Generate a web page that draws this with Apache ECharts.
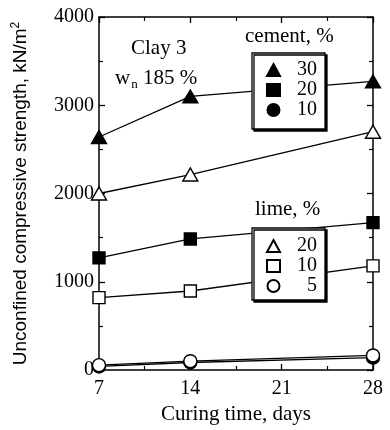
<!DOCTYPE html>
<html><head><meta charset="utf-8">
<script src="https://cdn.jsdelivr.net/npm/echarts@6/dist/echarts.min.js"></script>
<style>html,body{margin:0;padding:0;background:#fff}#c{width:390px;height:430px}</style>
</head><body><div id="c"></div>
<script>
var days = [7, 14, 28];
var cement30 = [2640, 3100, 3270];
var cement20 = [1270, 1485, 1670];
var cement10 = [40, 85, 140];
var lime20 = [2000, 2215, 2700];
var lime10 = [820, 895, 1180];
var lime5 = [55, 100, 165];
var xTicks = [7, 14, 21, 28];
var yTicks = [0, 1000, 2000, 3000, 4000];

var SERIF = 'Liberation Serif';
function pts(v){ return days.map(function(d,i){ return [d, v[i]]; }); }
function ser(name, vals, symbol, size, filled, z){
  return {
    name: name, type: 'line', data: pts(vals), symbol: symbol, symbolSize: size,
    showAllSymbol: true, z: z,
    lineStyle: {color: '#000', width: 1.3},
    itemStyle: {color: filled ? '#000' : '#fff', borderColor: '#000', borderWidth: 1.4, opacity: 1},
    emphasis: {disabled: true}, animation: false
  };
}
var legendCommon = {
  orient: 'vertical', selectedMode: false,
  backgroundColor: '#fff', borderColor: '#000', borderWidth: 1.3,
  shadowColor: '#000', shadowBlur: 0, shadowOffsetX: 2, shadowOffsetY: 2,
  itemWidth: 13, itemHeight: 12, itemGap: 0,
  formatter: function(n){ return '{n|' + n.split(' ')[1] + '}'; },
  textStyle: {color: '#000', fontFamily: SERIF, fontSize: 20,
    rich: {n: {width: 32, align: 'right', fontFamily: SERIF, fontSize: 20, color: '#000'}}}
};
function axisX(pos, showLabel){
  return {type: 'value', position: pos, min: xTicks[0], max: xTicks[xTicks.length-1], interval: 7,
    axisLine: {show: true, onZero: false, lineStyle: {color: '#000', width: 1.5}},
    axisTick: {show: true, inside: true, length: 6, lineStyle: {color: '#000', width: 1.3}},
    minorTick: {show: true, splitNumber: 2, length: 4, lineStyle: {color: '#000', width: 1.2}},
    splitLine: {show: false},
    axisLabel: {show: showLabel, color: '#000', fontFamily: SERIF, fontSize: 20, margin: 9,
      formatter: function(v){ return xTicks.indexOf(v) >= 0 ? String(v) : ''; }}
  };
}
function axisY(pos, showLabel){
  return {type: 'value', position: pos, min: yTicks[0], max: yTicks[yTicks.length-1], interval: 1000,
    axisLine: {show: true, onZero: false, lineStyle: {color: '#000', width: 1.5}},
    axisTick: {show: true, inside: true, length: 6, lineStyle: {color: '#000', width: 1.3}},
    minorTick: {show: true, splitNumber: 2, length: 4, lineStyle: {color: '#000', width: 1.2}},
    splitLine: {show: false},
    axisLabel: {show: showLabel, color: '#000', fontFamily: SERIF, fontSize: 20, margin: 5,
      formatter: function(v){ return yTicks.indexOf(v) >= 0 ? String(v) : ''; }}
  };
}
var xa = axisX('bottom', true);
xa.name = 'Curing time, days'; xa.nameLocation = 'middle'; xa.nameGap = 34;
xa.nameTextStyle = {color: '#000', fontFamily: SERIF, fontSize: 21};
var ya = axisY('left', true);
ya.name = 'Unconfined compressive strength, kN/m{s|2}'; ya.nameLocation = 'middle'; ya.nameGap = 67;
ya.nameTextStyle = {color: '#000', fontFamily: 'Liberation Sans', fontSize: 19,
  rich: {s: {fontSize: 12, verticalAlign: 'top', fontFamily: 'Liberation Sans', color: '#000', padding: [0,0,10,0]}}};
var xb = axisX('top', false);
var yb = axisY('right', false);

var chart = echarts.init(document.getElementById('c'), null, {renderer: 'canvas'});
chart.setOption({
  animation: false,
  backgroundColor: '#fff',
  grid: {left: 99, right: 17, top: 17, bottom: 57, containLabel: false},
  xAxis: [xa, xb],
  yAxis: [ya, yb],
  legend: [
    Object.assign({}, legendCommon, {left: 252, top: 53, padding: [7, 8, 9, 14],
      data: [{name: 'cement 30', icon: 'triangle'}, {name: 'cement 20', icon: 'rect'}, {name: 'cement 10', icon: 'circle'}]}),
    Object.assign({}, legendCommon, {left: 252, top: 228, padding: [8, 8, 4, 14],
      data: [{name: 'lime 20', icon: 'triangle'}, {name: 'lime 10', icon: 'rect'}, {name: 'lime 5', icon: 'circle'}]})
  ],
  graphic: [
    {type: 'text', left: 131, top: 38, style: {text: 'Clay 3', fontFamily: SERIF, fontSize: 21, fill: '#000'}},
    {type: 'text', left: 115, top: 68, style: {text: 'w{s|n} 185 %', fontFamily: SERIF, fontSize: 21, fill: '#000',
      rich: {s: {fontSize: 13, fontFamily: SERIF, verticalAlign: 'bottom', padding: [12,0,0,1]}}}},
    {type: 'text', left: 245, top: 26, style: {text: 'cement, %', fontFamily: SERIF, fontSize: 21, fill: '#000'}},
    {type: 'text', left: 255, top: 199, style: {text: 'lime, %', fontFamily: SERIF, fontSize: 21, fill: '#000'}}
  ],
  series: [
    ser('cement 30', cement30, 'triangle', [15, 13], true, 3),
    ser('lime 20', lime20, 'triangle', [15, 13], false, 3),
    ser('cement 20', cement20, 'rect', 12, true, 3),
    ser('lime 10', lime10, 'rect', 12, false, 3),
    ser('cement 10', cement10, 'circle', 13, true, 2),
    ser('lime 5', lime5, 'circle', 13, false, 3)
  ]
});
</script></body></html>
